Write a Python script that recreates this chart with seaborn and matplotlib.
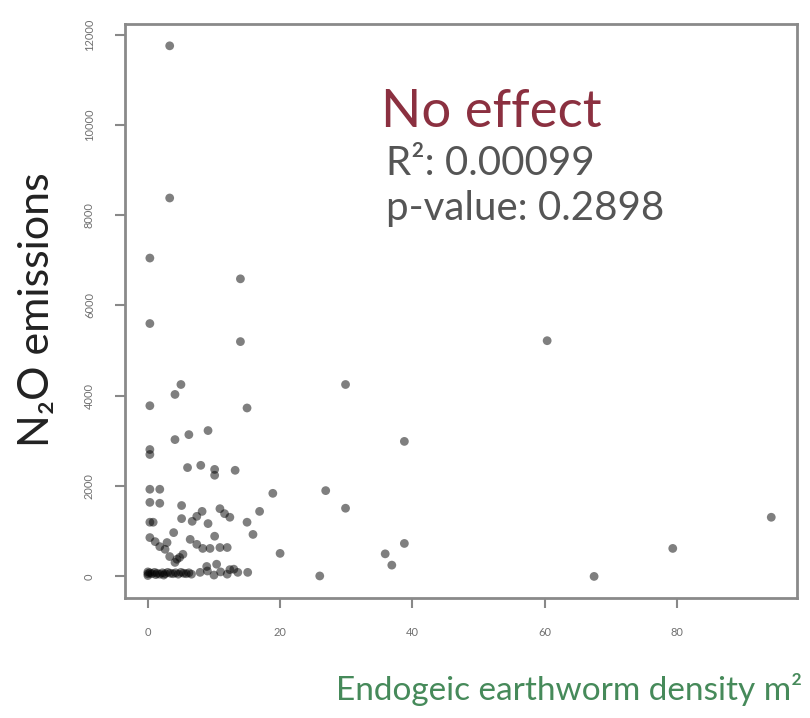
import matplotlib
matplotlib.use("Agg")
import matplotlib.pyplot as plt
import seaborn as sns
import pandas as pd

# Endogeic earthworm density (m^2)
density = [
    3.3, 3.3, 0.3, 0.3, 14.0, 14.0, 60.4, 29.9, 15.0, 0.3,
    5.0, 4.1, 38.8, 9.1, 6.2, 4.1, 0.3, 0.3, 6.0, 8.0,
    10.1, 10.1, 13.2, 18.9, 26.9, 29.9, 38.8, 35.9, 36.9, 26.0,
    20.0, 15.9, 15.0, 16.9, 0.3, 1.8, 0.3, 1.8, 0.3, 0.8,
    5.1, 5.1, 8.2, 7.4, 6.7, 10.9, 11.6, 12.4, 9.1, 3.9,
    0.3, 1.1, 1.8, 2.6, 2.9, 6.4, 7.4, 8.3, 9.4, 10.1,
    10.9, 12.0, 4.8, 4.1, 3.3, 10.4, 15.1, 67.5, 79.4, 94.3,
    5.3, 4.4, 8.9, 12.4,
    0.0, 0.0, 0.3, 0.6, 1.0, 1.4, 1.8, 2.2, 2.6, 3.0,
    3.4, 3.8, 4.2, 4.6, 5.0, 5.4, 5.8, 6.2, 6.6, 7.9, 9.0,
    10.0, 11.0, 12.0, 13.0, 13.6, 0.0, 1.2, 2.4,
]
# N2O emissions
n2o = [
    11750, 8380, 7050, 5600, 6590, 5200, 5220, 4250, 3730, 3780,
    4250, 4030, 2990, 3230, 3140, 3030, 2810, 2700, 2410, 2460,
    2370, 2240, 2350, 1840, 1900, 1510, 730, 500, 250, 10,
    510, 930, 1200, 1440, 1930, 1930, 1640, 1620, 1200, 1200,
    1570, 1280, 1440, 1330, 1220, 1500, 1390, 1310, 1170, 970,
    860, 770, 660, 600, 750, 820, 710, 620, 620, 890,
    640, 640, 420, 310, 440, 270, 90, 0, 620, 1310,
    490, 380, 220, 150,
    60, 100, 80, 60, 90, 70, 50, 80, 60, 90,
    70, 60, 80, 50, 90, 70, 60, 80, 50, 90, 120,
    30, 100, 50, 160, 90, 20, 40, 30,
]

x_ticks = [0, 20, 40, 60, 80]
y_ticks = [0, 2000, 4000, 6000, 8000, 10000, 12000]

df = pd.DataFrame({"density": density, "n2o": n2o})

sns.set_theme(style="white")
plt.rcParams["font.family"] = ["Lato", "DejaVu Sans"]

fig = plt.figure(figsize=(8.1, 7.18), dpi=100)
ax = fig.add_axes([0.154, 0.167, 0.830, 0.800])

sns.scatterplot(data=df, x="density", y="n2o", ax=ax, color="black",
                alpha=0.5, s=40, edgecolor="none", legend=False)

ax.set_xlim(-3.5, 98.2)
ax.set_ylim(-480, 12240)
ax.set_xticks(x_ticks)
ax.set_yticks(y_ticks)
ax.set_xticklabels([str(v) for v in x_ticks], fontsize=8, color="#707070")
ax.set_yticklabels([str(v) for v in y_ticks], fontsize=8, color="#707070",
                   rotation=90, va="center")
ax.tick_params(axis="both", which="both", direction="out", length=7.5,
               width=1.5, color="#888888", bottom=True, left=True)
ax.tick_params(axis="x", pad=13)
ax.tick_params(axis="y", pad=14)
for sp in ax.spines.values():
    sp.set_color("#8a8a8a")
    sp.set_linewidth(2)

ax.set_xlabel("")
ax.set_ylabel("")
fig.text(0.046, 0.568, "N₂O emissions", rotation=90, fontsize=31,
         color="#222222", ha="center", va="center")
fig.text(0.703, 0.039, "Endogeic earthworm density m²", fontsize=24,
         color="#468a5a", ha="center", va="center")

ax.text(0.381, 0.821, "No effect", transform=ax.transAxes, fontsize=38,
        color="#8b3040", ha="left", va="baseline")
ax.text(0.388, 0.737, "R²: 0.00099", transform=ax.transAxes, fontsize=29,
        color="#555555", ha="left", va="baseline")
ax.text(0.388, 0.659, "p-value: 0.2898", transform=ax.transAxes, fontsize=29,
        color="#555555", ha="left", va="baseline")

fig.savefig("out.png", dpi=100, facecolor="white")
